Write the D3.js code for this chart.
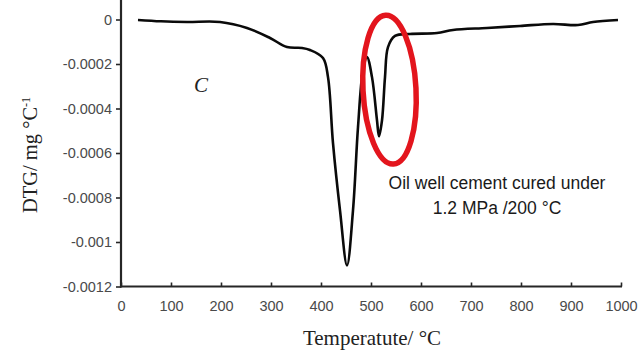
<!DOCTYPE html>
<html>
<head>
<meta charset="utf-8">
<script src="https://cdn.jsdelivr.net/npm/d3@7"></script>
<style>
  html, body { margin: 0; padding: 0; background: #fff; }
  svg { display: block; }
</style>
</head>
<body>
<svg id="chart" width="644" height="353"></svg>
<script>
// ---- data ----
const temperature = [34, 80, 132, 198, 252, 298, 332, 362, 378, 404, 414, 424, 438, 452, 464, 474, 484, 492, 502, 512, 516, 522, 528, 534, 548, 578, 632, 664, 732, 798, 864, 914, 944, 994];
const dtg = [-0.000002, -0.000008, -0.000011, -0.000011, -0.000038, -0.000083, -0.000124, -0.000128, -0.000137, -0.000173, -0.000259, -0.000556, -0.000858, -0.001105, -0.000858, -0.000484, -0.000227, -0.000169, -0.000259, -0.000453, -0.000525, -0.000453, -0.000259, -0.000124, -0.000074, -0.000065, -0.000061, -0.000047, -0.000038, -0.000029, -0.00002, -0.000025, -0.000011, -0.000002];
const xTicks = [0, 100, 200, 300, 400, 500, 600, 700, 800, 900, 1000];
const xTickLabels = ["0", "100", "200", "300", "400", "500", "600", "700", "800", "900", "1000"];
const yTicks = [0, -0.0002, -0.0004, -0.0006, -0.0008, -0.001, -0.0012];
const yTickLabels = ["0", "-0.0002", "-0.0004", "-0.0006", "-0.0008", "-0.001", "-0.0012"];
const xTitle = "Temperatute/ °C";
const panelLabel = "C";
const noteLines = ["Oil well cement cured under", "1.2 MPa /200 °C"];
const highlight = { t: 537, v: -0.000315, dt: 53, dv: 0.000335 };

// ---- scales ----
const svg = d3.select("#chart");
const x = d3.scaleLinear().domain([0, 1000]).range([121, 621]);
const y = d3.scaleLinear().domain([-0.0012, 0]).range([286.5, 19.5]);

const axisColor = "#262626";
const labelColor = "#4a4a4a";

// y axis
const yAxis = svg.append("g").attr("transform", `translate(${x(0)},0)`)
  .call(d3.axisLeft(y).tickValues(yTicks).tickSize(5).tickPadding(4)
    .tickFormat((d, i) => yTickLabels[i]));
yAxis.select(".domain").remove();
yAxis.selectAll(".tick line").attr("stroke", axisColor).attr("stroke-width", 1.6);
yAxis.selectAll(".tick text").attr("fill", labelColor)
  .style("font-family", "'Liberation Sans', Arial, sans-serif").style("font-size", "14.5px");
svg.append("line").attr("x1", x(0)).attr("x2", x(0)).attr("y1", 0).attr("y2", y(-0.0012) + 1)
  .attr("stroke", axisColor).attr("stroke-width", 2.2);

// x axis
const xAxis = svg.append("g").attr("transform", `translate(0,${y(-0.0012)})`)
  .call(d3.axisBottom(x).tickValues(xTicks).tickSize(-4).tickPadding(14)
    .tickFormat((d, i) => xTickLabels[i]));
xAxis.select(".domain").remove();
xAxis.selectAll(".tick line").attr("stroke", axisColor).attr("stroke-width", 1.6);
xAxis.selectAll(".tick text").attr("fill", labelColor)
  .style("font-family", "'Liberation Sans', Arial, sans-serif").style("font-size", "14.5px");
svg.append("line").attr("x1", x(0) - 1).attr("x2", x(1000) + 1).attr("y1", y(-0.0012)).attr("y2", y(-0.0012))
  .attr("stroke", axisColor).attr("stroke-width", 2.2);

// axis titles
svg.append("text").attr("x", 372).attr("y", 345).attr("text-anchor", "middle")
  .style("font-family", "'Liberation Serif', 'Times New Roman', serif").style("font-size", "21px")
  .attr("fill", "#222").text(xTitle);

const yt = svg.append("text").attr("transform", "translate(37,155) rotate(-90)").attr("text-anchor", "middle")
  .style("font-family", "'Liberation Serif', 'Times New Roman', serif").style("font-size", "20.5px").attr("fill", "#222");
yt.append("tspan").text("DTG/ mg °C");
yt.append("tspan").attr("dy", -7).style("font-size", "12px").text("-1");

// curve
const line = d3.line().x((d, i) => x(temperature[i])).y(d => y(d)).curve(d3.curveCatmullRom.alpha(0.5));
svg.append("path").datum(dtg).attr("d", line).attr("fill", "none")
  .attr("stroke", "#0a0a0a").attr("stroke-width", 2.6).attr("stroke-linejoin", "round");

// red ellipse highlight
const cx = x(highlight.t), cy = y(highlight.v);
const rx = x(highlight.dt) - x(0), ry = y(0) - y(highlight.dv);
svg.append("ellipse").attr("cx", cx).attr("cy", cy).attr("rx", rx).attr("ry", ry)
  .attr("transform", `rotate(-3,${cx},${cy})`)
  .attr("fill", "none").attr("stroke", "#e3151d").attr("stroke-width", 5.5);

// panel label
svg.append("text").attr("x", 201).attr("y", 92).attr("text-anchor", "middle")
  .style("font-family", "'Liberation Serif', 'Times New Roman', serif").style("font-style", "italic")
  .style("font-size", "21px").attr("fill", "#222").text(panelLabel);

// annotation
noteLines.forEach((t, i) => {
  svg.append("text").attr("x", 497).attr("y", 189 + i * 25).attr("text-anchor", "middle")
    .style("font-family", "'Liberation Sans', Arial, sans-serif").style("font-size", "17.5px")
    .attr("fill", "#1a1a1a").text(t);
});
</script>
</body>
</html>
